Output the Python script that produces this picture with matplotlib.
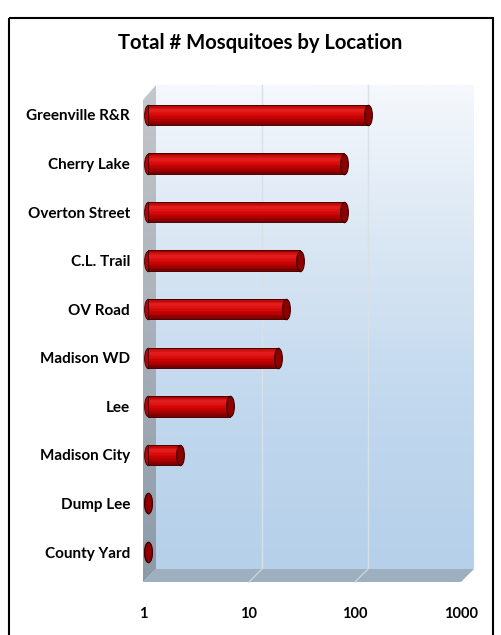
import numpy as np
import matplotlib
matplotlib.use("Agg")
import matplotlib.pyplot as plt
from matplotlib.colors import LinearSegmentedColormap
from matplotlib.patches import Polygon, Rectangle
from matplotlib.path import Path
from matplotlib.transforms import Affine2D, ScaledTranslation

# data
locations = ["Greenville R&R", "Cherry Lake", "Overton Street", "C.L. Trail",
             "OV Road", "Madison WD", "Lee", "Madison City", "Dump Lee",
             "County Yard"]
counts = [120, 71, 70, 27, 20, 17, 6, 2, 1, 1]
xticks = [1, 10, 100, 1000]
xticklabels = ["1", "10", "100", "1000"]
title = "Total # Mosquitoes by Location"

W, H = 501, 635
fig = plt.figure(figsize=(W / 100, H / 100), dpi=100)
fig.patch.set_facecolor("white")

# background axes in pixel coords for the 3d-ish box
bg = fig.add_axes([0, 0, 1, 1])
bg.set_xlim(0, W)
bg.set_ylim(H, 0)
bg.axis("off")

# main axes: x=1 at px 148, one decade = 106 px
x0, x1 = 148, 148 + 3 * 106
ytop, ybot = 90.7, 576.3
ax = fig.add_axes([x0 / W, 1 - ybot / H, (x1 - x0) / W, (ybot - ytop) / H])
ax.set_xscale("log")
ax.set_xlim(1, 1000)
ypos = np.arange(len(locations))
ax.set_ylim(len(locations) - 0.5, -0.5)
ax.patch.set_alpha(0)
for s in ax.spines.values():
    s.set_visible(False)

back_dx, front_dx = 8, -5
wall_top, floor_back, floor_front = 85, 569, 582
bl, br = x0 + back_dx, x1 + back_dx

# back wall gradient
grad = LinearSegmentedColormap.from_list("wall", ["#f5f8fc", "#d9e6f3", "#c1d8ee", "#b6d0ea"])
g = np.linspace(0, 1, 256).reshape(-1, 1)
bg.imshow(g, cmap=grad, aspect="auto", extent=(bl, br, floor_back, wall_top), zorder=1)

# gridlines on back wall and floor
for t in xticks[1:-1]:
    px = ax.transData.transform((t, 0))[0]
    bg.plot([px + back_dx, px + back_dx], [wall_top, floor_back], color="#d8e0e8", lw=1, zorder=2)
    bg.plot([px + back_dx, px + front_dx], [floor_back, floor_front], color="#c9d3dc", lw=1, zorder=4)

# floor
floor = Polygon([(bl, floor_back), (br, floor_back), (x1 + front_dx, floor_front),
                 (x0 + front_dx, floor_front)], closed=True, facecolor="#9eafbf",
                edgecolor="none", zorder=3)
bg.add_patch(floor)

# left wall with gray gradient
lw_poly = Polygon([(x0 + front_dx, wall_top + 15), (bl, wall_top), (bl, floor_back),
                   (x0 + front_dx, floor_front)], closed=True, facecolor="none",
                  edgecolor="none")
bg.add_patch(lw_poly)
wgrad = LinearSegmentedColormap.from_list("lwall", ["#c4c7cb", "#a8b0b9", "#8c9aa9"])
im = bg.imshow(g, cmap=wgrad, aspect="auto",
               extent=(x0 + front_dx, bl, floor_front, wall_top), zorder=3)
im.set_clip_path(lw_poly)

# cylinders
h = 0.42
n = 14
cyl = LinearSegmentedColormap.from_list("cyl", ["#b00000", "#e52020", "#d80808", "#b40000", "#7a0000"])
widths = [c - 1 for c in counts]
for k in range(n):
    off = -h / 2 + (k + 0.5) * h / n
    ax.barh(ypos + off, widths, left=1, height=h / n * 1.05,
            color=cyl(k / (n - 1)), edgecolor="none", zorder=5)
ax.barh(ypos, widths, left=1, height=h, fill=False, edgecolor="#4a0000", lw=0.7, zorder=6)

ell = Path.unit_circle().transformed(Affine2D().scale(0.38, 1.0))
cap_s = (h * 48.56 * 0.72) ** 2
ax.scatter([1] * len(ypos), ypos, marker=ell, s=cap_s, color="#c00000",
           edgecolors="#4a0000", linewidths=0.7, zorder=4, clip_on=False)
ax.scatter(counts, ypos, marker=ell, s=cap_s, color="#8c0000",
           edgecolors="#3a0000", linewidths=0.8, zorder=7, clip_on=False)

# ticks and labels
ax.set_yticks(ypos, locations, fontfamily="Lato", fontweight="bold", fontsize=11)
ax.tick_params(axis="y", length=0, pad=13)
ax.set_xticks(xticks, xticklabels, fontfamily="Lato", fontweight="bold", fontsize=10.5)
ax.minorticks_off()
ax.tick_params(axis="x", length=0, pad=22)
for lab in ax.get_xticklabels():
    lab.set_transform(lab.get_transform() + ScaledTranslation(front_dx / 100, 0, fig.dpi_scale_trans))

fig.text(260 / W, 1 - 43 / H, title, ha="center", va="center",
         fontfamily="Lato", fontweight="bold", fontsize=14.6)

# outer frame
bg.add_patch(Rectangle((9, 18), 484, 640, fill=False, edgecolor="black", lw=1.5, zorder=10))

fig.savefig("out.png", dpi=100)
